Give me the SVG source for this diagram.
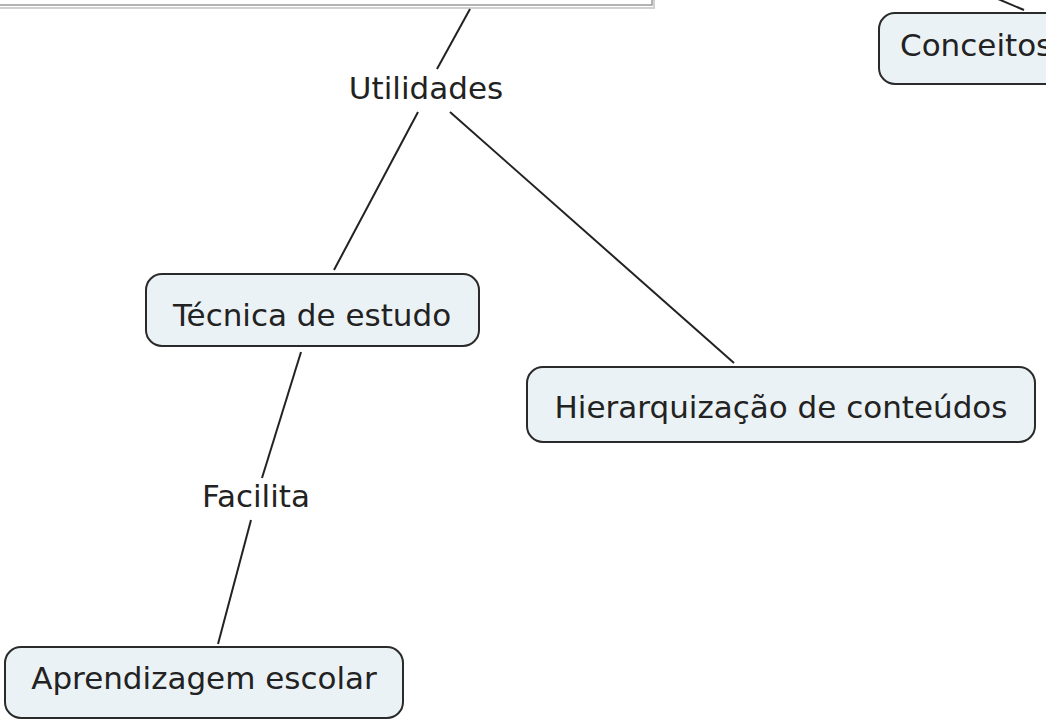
<svg xmlns="http://www.w3.org/2000/svg" width="1046" height="721" viewBox="0 0 1046 721">
<style>
.node{fill:#ebf2f5;stroke:#2a2a2a;stroke-width:2}
.t{font-family:"DejaVu Sans",Verdana,sans-serif;font-size:31px;fill:#222}
.c{text-anchor:middle}
.ln{stroke:#222;stroke-width:2;fill:none}
</style>
<rect width="1046" height="721" fill="#ffffff"/>
<g id="top-box">
<rect x="-20" y="-60" width="674" height="68" fill="#ffffff" stroke="#d0d0d0" stroke-width="2"/>
<rect x="-20" y="-60" width="672" height="65" fill="#ffffff" stroke="#9a9a9a" stroke-width="1.5"/>
</g>
<g id="connectors">
<line class="ln" x1="470" y1="9" x2="437" y2="69"/>
<line class="ln" x1="418" y1="112" x2="334" y2="270"/>
<line class="ln" x1="450" y1="112" x2="734" y2="363"/>
<line class="ln" x1="301" y1="352" x2="262" y2="478"/>
<line class="ln" x1="251" y1="520" x2="218" y2="644"/>
<line class="ln" x1="998" y1="-1" x2="1024" y2="10"/>
</g>
<g id="label-utilidades"><text class="t c" x="426" y="99">Utilidades</text></g>
<g id="label-facilita"><text class="t c" x="256" y="507">Facilita</text></g>
<g id="node-conceitos">
<rect class="node" x="879" y="13" width="220" height="71" rx="16"/>
<text class="t" x="900" y="56">Conceitos</text>
</g>
<g id="node-tecnica">
<rect class="node" x="146" y="274" width="333" height="72" rx="16"/>
<text class="t c" x="312" y="326">Técnica de estudo</text>
</g>
<g id="node-hierarquizacao">
<rect class="node" x="527" y="367" width="508" height="75" rx="16"/>
<text class="t c" x="781" y="418">Hierarquização de conteúdos</text>
</g>
<g id="node-aprendizagem">
<rect class="node" x="5" y="647" width="398" height="71" rx="16"/>
<text class="t c" x="204" y="689">Aprendizagem escolar</text>
</g>
</svg>
